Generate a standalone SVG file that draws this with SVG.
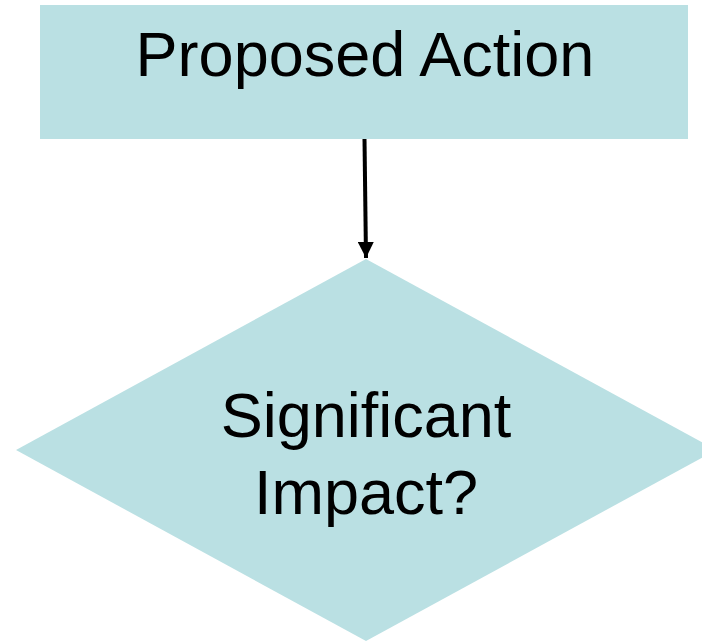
<svg xmlns="http://www.w3.org/2000/svg" width="702" height="641" viewBox="0 0 702 641">
<style>
.shape{fill:#BAE0E3;stroke:none}
.lbl{font-family:"Liberation Sans",Arial,sans-serif;font-size:63px;fill:#000;text-anchor:middle}
.conn{stroke:#000;stroke-width:4;fill:none}
</style>
<defs>
<marker id="arr" markerUnits="userSpaceOnUse" markerWidth="17" markerHeight="16" refX="16" refY="8" orient="auto">
<path d="M0,0 L16,8 L0,16 Z" fill="#000"/>
</marker>
</defs>
<rect width="702" height="641" fill="#fff"/>
<g id="node-proposed-action">
<rect class="shape" x="40" y="5" width="648" height="134"/>
<text class="lbl" x="365" y="76">Proposed Action</text>
</g>
<g id="node-significant-impact">
<polygon class="shape" points="366,259 716,450 366,641 16,450"/>
<text class="lbl" x="366" y="437">Significant</text>
<text class="lbl" x="366" y="514">Impact?</text>
</g>
<g id="connectors">
<line class="conn" x1="364.5" y1="139" x2="366" y2="258" marker-end="url(#arr)"/>
</g>
</svg>
